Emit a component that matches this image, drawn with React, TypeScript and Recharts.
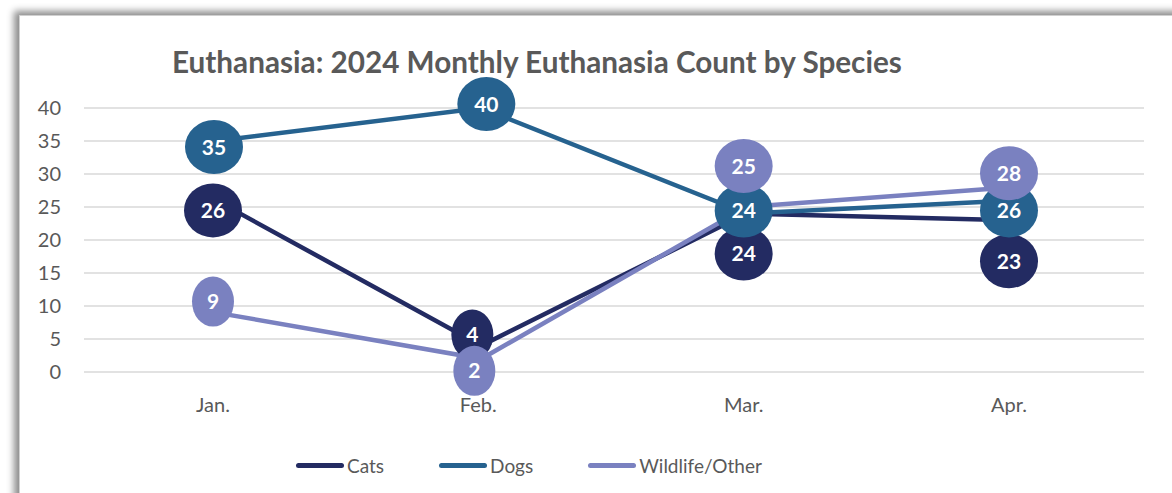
import { CartesianGrid, LabelList, Legend, Line, LineChart, XAxis, YAxis } from 'recharts';

const MONTHS = ['Jan.', 'Feb.', 'Mar.', 'Apr.'];
const CATS = [26, 4, 24, 23];
const DOGS = [35, 40, 24, 26];
const WILDLIFE = [9, 2, 25, 28];
const Y_TICKS = [0, 5, 10, 15, 20, 25, 30, 35, 40];

// label bubble nudges (px) so the callouts sit like the original
const CATS_NUDGE = [[-3, 10], [-9, -11], [-3, 40], [-3, 41]];
const DOGS_NUDGE = [[-2, 6], [5, -4], [-3, -3], [-3, 10]];
const WILD_NUDGE = [[-3, -11], [-7, 12], [-3, -41], [-3, -14]];

const FONT = 'Lato, "Open Sans", sans-serif';
const GREY = '#595959';

const SERIES = [
  { key: 'cats', name: 'Cats', color: '#232B62', nudge: CATS_NUDGE },
  { key: 'dogs', name: 'Dogs', color: '#26628F', nudge: DOGS_NUDGE },
  { key: 'wild', name: 'Wildlife/Other', color: '#7A81C0', nudge: WILD_NUDGE },
];

const data = MONTHS.map((month, i) => ({
  month,
  cats: CATS[i],
  dogs: DOGS[i],
  wild: WILDLIFE[i],
}));

function bubble(color: string, nudge: number[][]) {
  return (props: any) => {
    const { x, y, value, index } = props;
    const [dx, dy] = nudge[index] ?? [0, 0];
    const cx = Number(x) + dx;
    const cy = Number(y) + dy;
    const wide = String(value).length > 1;
    return (
      <g>
        <ellipse cx={cx} cy={cy} rx={wide ? 29 : 21} ry={wide ? 27 : 25} fill={color} />
        <text
          x={cx}
          y={cy}
          dy="0.36em"
          textAnchor="middle"
          fill="#fff"
          fontFamily={FONT}
          fontWeight={700}
          fontSize={21}
        >
          {value}
        </text>
      </g>
    );
  };
}

function LegendRow() {
  return (
    <div style={{ display: 'flex', alignItems: 'center', fontFamily: FONT, fontSize: 19, color: GREY }}>
      {SERIES.map((s) => (
        <div key={s.key} style={{ display: 'flex', alignItems: 'center', marginRight: 55 }}>
          <span
            style={{ width: 48, height: 5, borderRadius: 3, background: s.color, marginRight: 3 }}
          />
          <span>{s.name}</span>
        </div>
      ))}
    </div>
  );
}

export default function App() {
  return (
    <div
      style={{
        position: 'absolute',
        left: 0,
        top: 0,
        width: 1172,
        height: 493,
        overflow: 'hidden',
        background: '#fff',
      }}
    >
      <div
        style={{
          position: 'absolute',
          left: 19,
          top: 15,
          width: 1200,
          height: 520,
          background: '#fff',
          border: '1px solid #d0d0d0',
          boxShadow: '-5px -4px 7px rgba(0,0,0,0.45)',
        }}
      />
      <div
        style={{
          position: 'absolute',
          left: 172,
          top: 44,
          fontFamily: FONT,
          fontWeight: 700,
          fontSize: 29.7,
          color: GREY,
          whiteSpace: 'nowrap',
        }}
      >
        Euthanasia: 2024 Monthly Euthanasia Count by Species
      </div>
      <div style={{ position: 'absolute', left: 0, top: 0 }}>
        <LineChart
          width={1172}
          height={493}
          data={data}
          margin={{ top: 108, right: 28, bottom: 91, left: 0 }}
        >
          <CartesianGrid vertical={false} stroke="#d9d9d9" strokeWidth={1.5} />
          <XAxis
            dataKey="month"
            axisLine={false}
            tickLine={false}
            tickSize={0}
            tickMargin={26}
            height={30}
            padding={{ left: 132, right: 132 }}
            tick={{ fill: GREY, fontSize: 20, fontFamily: FONT, dx: -3 }}
          />
          <YAxis
            domain={[0, 40]}
            ticks={Y_TICKS}
            axisLine={false}
            tickLine={false}
            tickSize={0}
            tickMargin={23}
            width={84}
            tick={{ fill: GREY, fontSize: 20, fontFamily: FONT }}
          />
          {SERIES.map((s) => (
            <Line
              key={s.key}
              dataKey={s.key}
              name={s.name}
              stroke={s.color}
              strokeWidth={4.5}
              dot={false}
              activeDot={false}
              isAnimationActive={false}
            />
          ))}
          {SERIES.map((s) => (
            <Line
              key={s.key + '-labels'}
              dataKey={s.key}
              stroke="none"
              dot={false}
              activeDot={false}
              legendType="none"
              isAnimationActive={false}
            >
              <LabelList dataKey={s.key} content={bubble(s.color, s.nudge)} />
            </Line>
          ))}
          <Legend
            layout="horizontal"
            verticalAlign="middle"
            align="center"
            content={() => <LegendRow />}
            wrapperStyle={{ top: 454, left: 296, width: 700 }}
          />
        </LineChart>
      </div>
    </div>
  );
}
